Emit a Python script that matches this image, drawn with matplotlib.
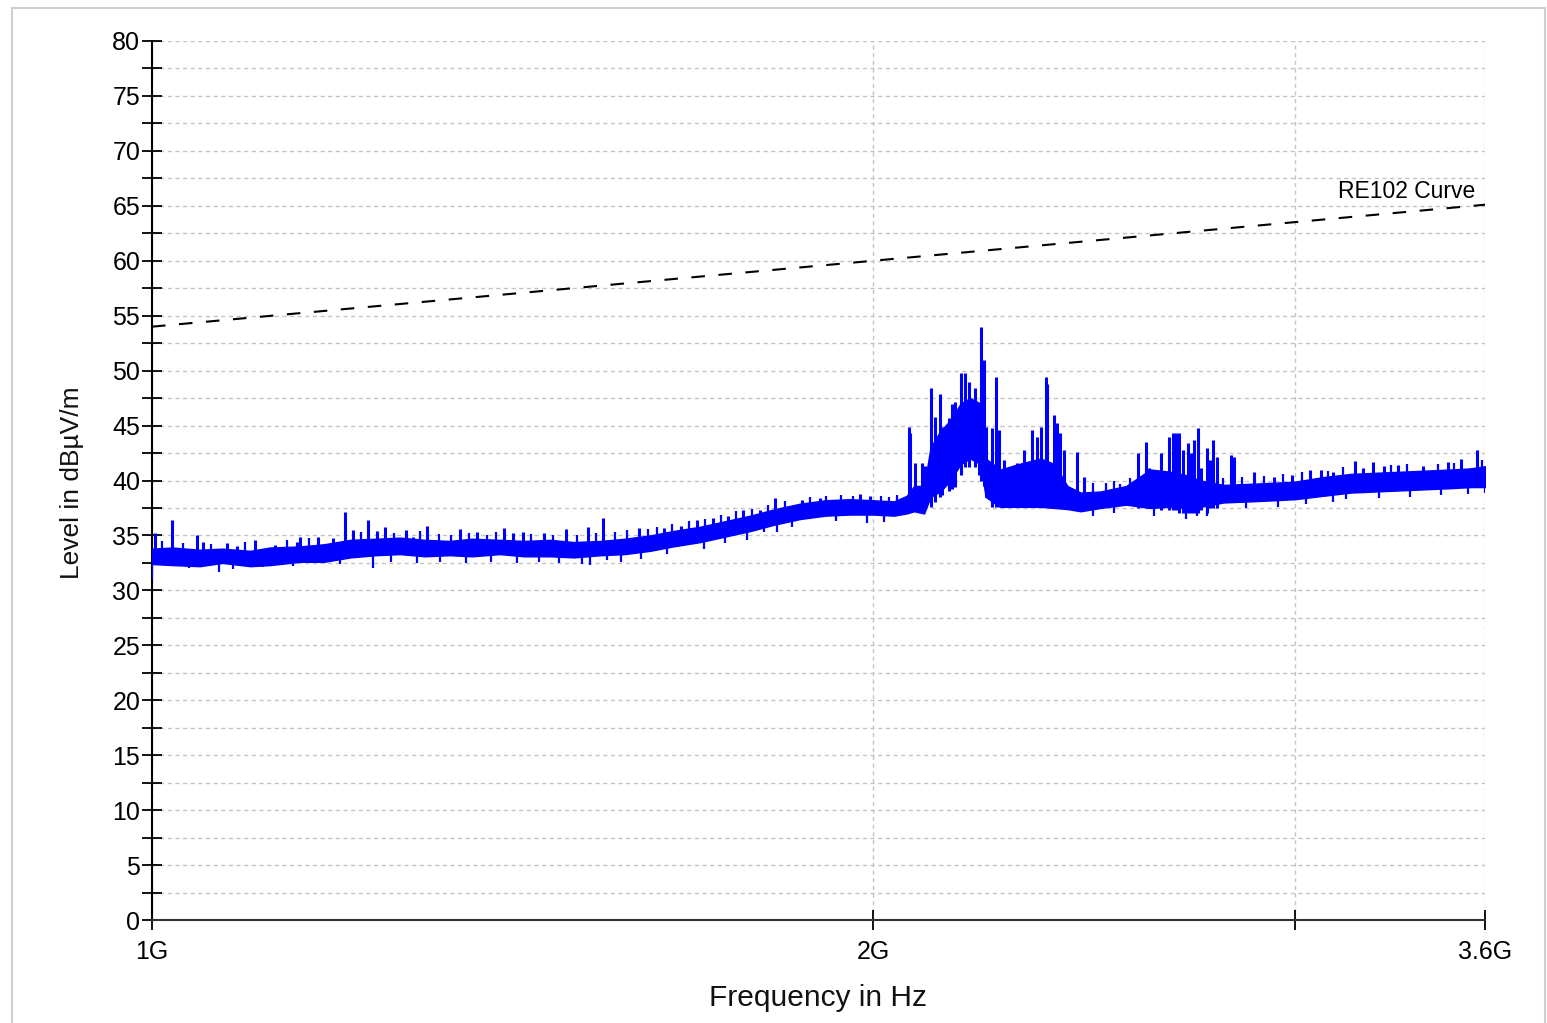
import matplotlib
matplotlib.use("Agg")
import matplotlib.pyplot as plt
from matplotlib.patches import Rectangle
import numpy as np

plt.rcParams['font.family'] = ['Liberation Sans', 'DejaVu Sans']

band_f = [1.000, 1.020, 1.047, 1.070, 1.099, 1.120, 1.153, 1.180, 1.210, 1.240,
          1.269, 1.300, 1.331, 1.360, 1.397, 1.430, 1.466, 1.500, 1.539, 1.575,
          1.614, 1.650, 1.694, 1.735, 1.777, 1.820, 1.865, 1.910, 1.956, 2.000,
          2.040, 2.065, 2.080, 2.100, 2.113, 2.133, 2.154, 2.175, 2.195, 2.217,
          2.228, 2.260, 2.300, 2.349, 2.380, 2.410, 2.441, 2.488, 2.550, 2.610,
          2.660, 2.700, 2.739, 2.800, 2.874, 2.940, 3.000, 3.080, 3.164, 3.240,
          3.320, 3.400, 3.483, 3.550, 3.600]
band_lo = [32.4, 32.3, 32.2, 32.5, 32.2, 32.3, 32.6, 32.6, 33.0, 33.2,
           33.3, 33.1, 33.2, 33.1, 33.3, 33.1, 33.1, 33.0, 33.2, 33.3,
           33.6, 34.0, 34.4, 34.9, 35.4, 36.0, 36.5, 36.8, 36.9, 36.9,
           36.8, 37.0, 37.2, 37.0, 38.5, 39.0, 40.0, 41.5, 42.0, 41.5,
           38.5, 37.6, 37.6, 37.6, 37.5, 37.4, 37.2, 37.5, 37.8, 37.5,
           37.6, 37.5, 37.6, 38.0, 38.1, 38.2, 38.3, 38.6, 38.9, 39.0,
           39.1, 39.2, 39.3, 39.4, 39.4]
band_hi = [33.8, 33.9, 33.7, 33.8, 33.6, 33.9, 34.0, 34.2, 34.6, 34.7,
           34.8, 34.6, 34.5, 34.7, 34.6, 34.5, 34.6, 34.4, 34.5, 34.7,
           35.0, 35.4, 35.8, 36.3, 36.8, 37.4, 37.9, 38.2, 38.3, 38.2,
           38.1, 38.6, 39.5, 39.5, 43.0, 44.5, 45.5, 47.0, 47.5, 47.0,
           42.0, 41.0, 41.5, 42.0, 41.5, 39.5, 38.9, 39.0, 39.5, 41.0,
           40.8, 40.5, 40.0, 39.6, 39.7, 39.8, 39.9, 40.3, 40.6, 40.7,
           40.8, 40.9, 41.0, 41.1, 41.3]

# upward spikes (GHz, base, peak)
spike_f = [1.003, 1.019, 1.044, 1.050, 1.075, 1.085, 1.104, 1.126, 1.150, 1.153,
           1.173, 1.190, 1.204, 1.213, 1.231, 1.241, 1.251, 1.276, 1.285, 1.303,
           1.345, 1.367, 1.402, 1.415, 1.428, 1.457, 1.488, 1.521, 1.543, 1.596,
           1.635, 1.662, 1.689, 1.715, 1.740, 1.765, 1.794, 1.820, 1.867, 1.900,
           1.975, 1.994,
           2.069, 2.072, 2.082, 2.096, 2.102, 2.113, 2.123, 2.133, 2.137, 2.150,
           2.157, 2.164, 2.175, 2.185, 2.192, 2.206, 2.213, 2.219, 2.224, 2.229,
           2.241, 2.250, 2.256, 2.267, 2.278, 2.296, 2.311, 2.329, 2.340, 2.349,
           2.360, 2.364, 2.380, 2.386, 2.394, 2.402, 2.433, 2.449,
           2.578, 2.598, 2.606, 2.636, 2.656, 2.667, 2.674, 2.682, 2.692, 2.705,
           2.713, 2.721, 2.731, 2.739, 2.757, 2.765, 2.773, 2.783, 2.819, 2.828,
           2.882, 2.938, 2.992, 3.044, 3.074, 3.112, 3.177, 3.203, 3.234, 3.266,
           3.311, 3.391, 3.473, 3.517, 3.551, 3.572]
spike_base = [33.0, 33.0, 33.0, 33.0, 33.0, 33.0, 33.0, 33.0, 33.2, 33.2,
              33.3, 33.5, 33.8, 33.8, 34.0, 34.0, 34.0, 34.0, 34.0, 33.8,
              33.8, 33.8, 33.8, 33.8, 33.8, 33.8, 33.7, 33.8, 33.8, 34.2,
              34.6, 34.9, 35.0, 35.5, 35.6, 36.0, 36.5, 36.6, 37.2, 37.4,
              37.5, 37.5,
              37.6, 37.6, 37.6, 37.6, 37.6, 37.6, 38.0, 38.5, 38.7, 39.0,
              39.2, 39.4, 40.5, 41.2, 41.2, 41.2, 40.5, 40.0, 39.5, 38.5,
              37.6, 37.6, 37.6, 37.6, 37.6, 37.6, 37.6, 37.6, 37.6, 37.6,
              37.6, 37.6, 37.6, 37.6, 37.6, 37.6, 37.5, 37.5,
              37.5, 37.5, 37.5, 37.3, 37.3, 37.3, 37.3, 37.0, 37.0, 37.0,
              37.0, 37.0, 37.0, 37.3, 37.0, 37.5, 37.5, 37.5, 38.0, 38.0,
              38.5, 38.8, 39.0, 39.2, 39.4, 39.5, 39.8, 39.8, 40.0, 40.0,
              40.0, 40.2, 40.4, 40.5, 40.5, 40.5]
spike_peak = [35.2, 36.4, 35.0, 34.4, 34.3, 34.0, 34.6, 34.1, 34.4, 34.9,
              34.9, 34.8, 37.1, 35.5, 36.4, 35.4, 35.8, 35.5, 34.9, 35.9,
              35.6, 35.3, 35.7, 35.2, 35.3, 35.2, 35.6, 35.8, 36.6, 35.7,
              35.7, 35.9, 36.4, 36.6, 36.8, 37.3, 37.3, 38.4, 38.2, 38.4,
              38.8, 38.6,
              44.9, 44.3, 41.6, 41.6, 41.3, 48.4, 45.8, 47.9, 44.9, 45.7,
              47.0, 47.1, 49.8, 49.8, 49.0, 48.4, 47.0, 54.0, 51.0, 44.9,
              44.8, 49.4, 44.6, 41.9, 41.2, 41.6, 42.8, 44.6, 44.0, 44.9,
              49.4, 48.8, 46.0, 45.2, 44.3, 42.8, 42.6, 40.3,
              42.5, 43.5, 41.1, 42.5, 44.0, 44.3, 44.3, 44.3, 42.8, 43.4,
              42.5, 43.7, 44.8, 41.1, 43.0, 41.9, 43.7, 42.1, 42.3, 42.1,
              40.8, 40.3, 40.5, 41.0, 41.0, 40.8, 41.8, 41.1, 41.7, 41.3,
              41.4, 41.3, 41.7, 42.0, 41.1, 42.8]

# short ragged segments on the band edges (GHz, low, high)
rag_f = [1.000, 1.010, 1.030, 1.036, 1.058, 1.066, 1.081, 1.093, 1.113, 1.138,
         1.145, 1.163, 1.198, 1.222, 1.237, 1.258, 1.262, 1.290, 1.294, 1.318,
         1.319, 1.333, 1.352, 1.356, 1.380, 1.385, 1.392, 1.420, 1.440, 1.450,
         1.470, 1.478, 1.505, 1.512, 1.524, 1.532, 1.549, 1.560, 1.570, 1.578,
         1.600, 1.610, 1.625, 1.640, 1.648, 1.675, 1.700, 1.702, 1.728, 1.735,
         1.752, 1.771, 1.780, 1.800, 1.808, 1.823, 1.838, 1.850, 1.882, 1.912,
         1.930, 1.938, 1.962, 1.988, 2.015, 2.020, 2.030, 2.046,
         2.470, 2.470, 2.500, 2.520, 2.520, 2.535, 2.560, 2.620, 2.700, 2.730,
         2.757, 2.800, 2.850, 2.860, 2.910, 2.950, 2.965, 3.020, 3.030, 3.095,
         3.112, 3.140, 3.150, 3.250, 3.290, 3.340, 3.350, 3.440, 3.450, 3.495,
         3.540, 3.590, 3.600]
rag_lo = [30.9, 33.0, 33.0, 32.0, 33.0, 31.7, 31.9, 33.0, 32.1, 33.0,
          32.2, 33.2, 32.4, 33.8, 32.0, 32.6, 34.0, 32.5, 34.0, 33.8,
          32.6, 33.8, 32.5, 33.8, 33.8, 32.6, 33.8, 32.5, 33.8, 32.6,
          33.7, 32.5, 33.7, 32.4, 32.3, 33.8, 32.8, 33.8, 32.6, 34.0,
          32.9, 34.2, 34.4, 33.3, 34.7, 35.0, 33.8, 35.2, 35.5, 34.3,
          35.8, 34.6, 36.2, 35.3, 36.4, 35.3, 36.8, 35.8, 37.2, 37.4,
          36.3, 37.5, 37.5, 36.1, 37.4, 36.2, 37.4, 37.4,
          37.8, 36.8, 38.0, 38.0, 37.0, 38.0, 38.2, 36.8, 36.5, 36.8,
          36.8, 38.5, 38.6, 37.5, 38.8, 37.6, 38.9, 39.0, 37.9, 39.3,
          38.0, 39.5, 38.3, 38.4, 39.8, 39.9, 38.5, 40.0, 38.7, 40.2,
          38.8, 40.3, 38.9]
rag_hi = [33.0, 34.5, 34.3, 33.2, 34.2, 33.0, 33.0, 34.4, 33.0, 34.6,
          33.3, 34.8, 33.6, 35.3, 33.8, 33.8, 35.2, 33.8, 35.4, 35.1,
          33.8, 35.0, 33.8, 35.2, 35.0, 33.8, 35.3, 33.8, 35.1, 33.8,
          35.0, 33.8, 35.0, 33.6, 33.8, 35.2, 33.8, 35.3, 33.8, 35.5,
          34.0, 35.6, 35.8, 34.5, 36.0, 36.3, 35.0, 36.5, 36.9, 35.5,
          37.2, 36.0, 37.4, 36.5, 37.8, 36.6, 38.1, 37.0, 38.5, 38.6,
          37.5, 38.7, 38.6, 37.5, 38.6, 37.3, 38.5, 38.7,
          39.8, 38.0, 39.8, 40.0, 38.2, 39.7, 40.2, 38.0, 37.8, 38.0,
          38.0, 40.2, 40.3, 38.5, 40.4, 38.8, 40.6, 40.8, 39.0, 40.9,
          39.5, 41.2, 39.5, 39.6, 41.4, 41.5, 39.7, 41.5, 39.9, 41.6,
          40.0, 41.9, 40.0]

# RE102 limit line
limit_f = [1.0, 2.0, 3.6]
limit_lvl = [54.0, 60.0, 65.1]

x_ticks = [1.0, 2.0, 3.0, 3.6]
x_labels = ['1G', '2G', '', '3.6G']

fig = plt.figure(figsize=(15.47, 10.23), dpi=100)
ax = fig.add_axes([152/1547, 1 - 920/1023, (1485-152)/1547, (920-41)/1023])

ghz = 1e9
blue = '#0000ff'
ax.fill_between(np.array(band_f) * ghz, band_lo, band_hi, color=blue,
                lw=1.0, zorder=3)
ax.vlines(np.array(spike_f) * ghz, spike_base, spike_peak, color=blue,
          lw=2.2, zorder=3)
ax.vlines(np.array(rag_f) * ghz, rag_lo, rag_hi, color=blue,
          lw=1.6, zorder=3)
ax.plot(np.array(limit_f) * ghz, limit_lvl, color='black', lw=1.5,
        linestyle=(0, (6.5, 6.5)), zorder=4)
ax.text(3.568 * ghz, 65.7, 'RE102 Curve', ha='right', va='baseline',
        fontsize=16.5, color='black')

ax.set_xscale('log')
ax.set_xlim(1.0 * ghz, 3.6 * ghz)
ax.set_ylim(0, 80)
ax.set_xticks([t * ghz for t in x_ticks])
ax.set_xticklabels(x_labels)
ax.xaxis.set_minor_locator(matplotlib.ticker.NullLocator())
ax.set_yticks(np.arange(0, 81, 5))
ax.set_yticks(np.arange(2.5, 80, 5), minor=True)

ax.tick_params(axis='both', which='both', direction='inout', length=15,
               width=1.3, colors='black', labelsize=18)
ax.tick_params(axis='y', which='major', pad=1)
ax.tick_params(axis='x', which='major', pad=7)

ax.grid(True, which='both', axis='y', color='#c4c4c4', lw=1.0,
        linestyle=(0, (3, 2.5)))
ax.grid(True, which='major', axis='x', color='#c4c4c4', lw=1.0,
        linestyle=(0, (3, 2.5)))
ax.set_axisbelow(True)

for s in ('top', 'right'):
    ax.spines[s].set_visible(False)
ax.spines['left'].set_linewidth(1.5)
ax.spines['bottom'].set_linewidth(1.5)
ax.spines['bottom'].set_color('#333333')

fig.text(72/1547, 1 - 483/1023, 'Level in dBµV/m', rotation=90,
         ha='center', va='center', fontsize=19, color='#111111')
fig.text(818/1547, 1 - 998/1023, 'Frequency in Hz', ha='center',
         va='center', fontsize=21.5, color='#111111')

# light outer frame
fig.patches.append(Rectangle((12/1547, -0.02), (1545-12)/1547, 1.02 - 8/1023,
                             transform=fig.transFigure, fill=False,
                             edgecolor='#cfcfcf', lw=1.5))

fig.savefig('out.png', dpi=100)
